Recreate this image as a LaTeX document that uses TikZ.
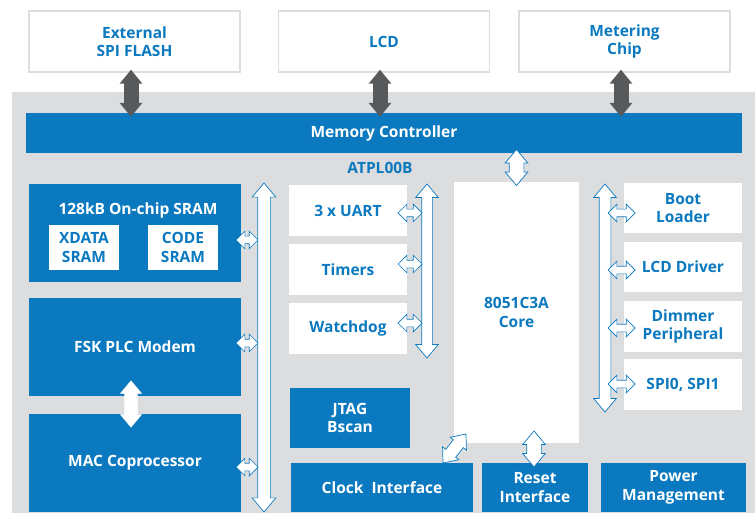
\documentclass[tikz,border=0pt]{standalone}
\usepackage{fontspec}
\setmainfont{Open Sans}
\usetikzlibrary{arrows.meta,shapes.arrows,calc}
\definecolor{chipblue}{RGB}{11,121,191}
\definecolor{chipgray}{RGB}{220,221,223}
\definecolor{boxgray}{RGB}{221,221,221}
\definecolor{busgray}{RGB}{88,89,91}
\begin{document}
\begin{tikzpicture}[x=1pt,y=-1pt]
\tikzset{
  lbl/.style={font=\fontsize{15.5}{18.5}\selectfont\bfseries,align=center,inner sep=0},
  blk/.style={lbl,fill=chipblue,text=white},
  wblk/.style={lbl,fill=white,text=chipblue},
  ext/.style={wblk,draw=boxgray,line width=1.5pt,minimum width=211,minimum height=61},
  darr/.style={double arrow,draw=chipblue,fill=white,line width=0.7pt,inner xsep=0,inner ysep=6pt,
    double arrow tip angle=80,double arrow head extend=5pt},
  sarr/.style={darr,inner ysep=3.5pt,double arrow head extend=5pt,double arrow tip angle=90},
  gbus/.style={draw=busgray,line width=15pt,
    {Triangle[width=22pt,length=14pt]}-{Triangle[width=22pt,length=14pt]}}
}
\useasboundingbox (0,0) rectangle (755,513);
% chip background
\fill[chipgray] (12,92) rectangle (755,513);
% external parts
\node (flash) at (134.5,41.5) [ext] {External\\SPI FLASH};
\node (lcd) at (384,41.5) [ext] {LCD};
\node (meter) at (624.5,41.5) [ext] {Metering\\Chip};
\node (mc) at (384,133) [blk,minimum width=716,minimum height=40] {Memory Controller};
\draw[gbus] ([xshift=-3.5pt,yshift=3pt]flash.south) -- ([xshift=-3.5pt,yshift=-4pt]flash.south |- mc.north);
\draw[gbus] ([xshift=-4pt,yshift=3pt]lcd.south) -- ([xshift=-4pt,yshift=-4pt]lcd.south |- mc.north);
\draw[gbus] ([xshift=-3.5pt,yshift=3pt]meter.south) -- ([xshift=-3.5pt,yshift=-4pt]meter.south |- mc.north);
\node (atpl) at (380,168) [lbl,text=chipblue] {ATPL00B};
% left column
\node (sram) at (135,233) [blk,minimum width=212,minimum height=98] {};
\node (sramt) at (138,210) [lbl,text=white] {128kB On-chip SRAM};
\node (xdata) at (84,247.5) [wblk,minimum width=70,minimum height=45] {XDATA\\SRAM};
\node (code) at (183,247.5) [wblk,minimum width=70,minimum height=45] {CODE\\SRAM};
\node (fsk) at (135,347) [blk,minimum width=212,minimum height=98] {FSK PLC Modem};
\node (mac) at (135,463) [blk,minimum width=212,minimum height=98] {MAC Coprocessor};
\node (fskmac) at (131,404) [darr,rotate=90,minimum height=46,inner ysep=6pt,
  double arrow head extend=4pt,draw=white!90!chipgray] {};
\node (lbus) at (264,347.5) [darr,rotate=90,minimum height=329,double arrow head extend=5.5pt] {};
\foreach \y/\n in {240/1,343/2,467/3}
  \node (la\n) at (247,\y) [sarr,minimum height=22] {};
% middle column
\node (uart) at (348,210.5) [wblk,minimum width=118,minimum height=51] {3 x UART};
\node (timers) at (348,269.5) [wblk,minimum width=118,minimum height=51] {Timers};
\node (wdog) at (348,328.5) [wblk,minimum width=118,minimum height=51] {Watchdog};
\node (mbus) at (427,271) [darr,rotate=90,minimum height=174,inner ysep=5pt,double arrow head extend=6pt] {};
\foreach \y/\n in {213/1,264/2,323/3}
  \node (ma\n) at (410,\y) [sarr,minimum height=24] {};
\node (jtag) at (350,418) [blk,minimum width=120,minimum height=60] {JTAG\\Bscan};
\node (core) at (516.5,312.5) [wblk,minimum width=125,minimum height=261] {8051C3A\\Core};
\node (clock) at (382,487.5) [blk,minimum width=182,minimum height=49] {Clock\ \ Interface};
\node (reset) at (535,487.5) [blk,minimum width=106,minimum height=49] {Reset\\Interface};
\node (power) at (673.5,487.5) [blk,minimum width=145,minimum height=49] {Power\\Management};
\node (mccore) at ($(core.north)!.5!(core.north |- mc.south)$) [darr,rotate=90,minimum height=36,inner ysep=7pt,double arrow head extend=4pt] {};
\node (corerst) at (534,449) [darr,rotate=90,minimum height=36,inner ysep=7pt,double arrow head extend=4pt] {};
\node (coreclk) at (454.5,448.5) [darr,rotate=51.6,minimum height=37,inner ysep=6pt,double arrow head extend=4pt] {};
% right column
\node (boot) at (683,208) [wblk,minimum width=118,minimum height=50] {Boot\\Loader};
\node (lcddrv) at (683,267) [wblk,minimum width=118,minimum height=50] {LCD Driver};
\node (dimmer) at (683,326.5) [wblk,minimum width=118,minimum height=51] {Dimmer\\Peripheral};
\node (spi) at (683,384.5) [wblk,minimum width=118,minimum height=51] {SPI0, SPI1};
\node (rbus) at (605,298) [darr,rotate=90,minimum height=228,inner ysep=5.5pt,double arrow head extend=5.5pt] {};
\foreach \y/\n in {213/1,270/2,328/3,384/4}
  \node (ra\n) at (621.5,\y) [sarr,minimum height=27] {};
\end{tikzpicture}
\end{document}
